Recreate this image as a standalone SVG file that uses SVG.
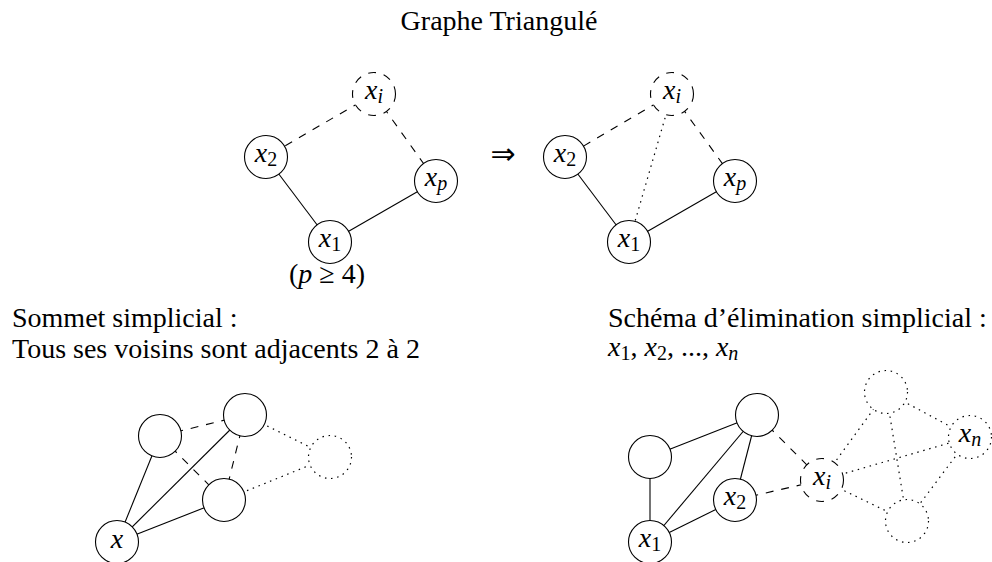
<svg xmlns="http://www.w3.org/2000/svg" width="992" height="562" viewBox="0 0 992 562">
<style>
.e{stroke:#000;stroke-width:1.1;fill:none}
.n{fill:#fff;stroke:#000;stroke-width:1.1}
.da{stroke-dasharray:7.9 7.9}
.do{stroke-dasharray:1.5 4.7;stroke-width:1.2}
.t{font-family:"Liberation Serif","Times New Roman",serif;font-size:28px;fill:#000}
.lb{font-family:"Liberation Serif","Times New Roman",serif;font-size:28px;fill:#000;text-anchor:middle}
.it{font-style:italic}
.sub{font-size:20px}
.ar{font-family:"DejaVu Sans",sans-serif;font-size:30px;text-anchor:middle}
</style>
<rect width="992" height="562" fill="#fff"/>
<text class="t" x="499" y="30" text-anchor="middle" font-size="31.5">Graphe Triangulé</text>
<g id="connectors">
  <line class="e da" x1="374" y1="94" x2="266" y2="157"/>
  <line class="e da" x1="374" y1="94" x2="436" y2="181"/>
  <line class="e" x1="266" y1="157" x2="330" y2="242"/>
  <line class="e" x1="436" y1="181" x2="330" y2="242"/>
  <line class="e da" x1="672" y1="94" x2="565" y2="157"/>
  <line class="e da" x1="672" y1="94" x2="735" y2="181"/>
  <line class="e do" x1="672" y1="94" x2="629" y2="242"/>
  <line class="e" x1="565" y1="157" x2="629" y2="242"/>
  <line class="e" x1="735" y1="181" x2="629" y2="242"/>
  <line class="e" x1="117" y1="542" x2="160" y2="436"/>
  <line class="e" x1="117" y1="542" x2="245" y2="415"/>
  <line class="e" x1="117" y1="542" x2="224" y2="500"/>
  <line class="e da" x1="160" y1="436" x2="245" y2="415"/>
  <line class="e da" x1="160" y1="436" x2="224" y2="500"/>
  <line class="e da" x1="245" y1="415" x2="224" y2="500"/>
  <line class="e do" x1="245" y1="415" x2="330" y2="457"/>
  <line class="e do" x1="224" y1="500" x2="330" y2="457"/>
  <line class="e" x1="650" y1="457" x2="650" y2="542"/>
  <line class="e" x1="650" y1="457" x2="757" y2="415"/>
  <line class="e" x1="757" y1="415" x2="650" y2="542"/>
  <line class="e" x1="757" y1="415" x2="735" y2="500"/>
  <line class="e" x1="735" y1="500" x2="650" y2="542"/>
  <line class="e da" x1="757" y1="415" x2="822" y2="480"/>
  <line class="e da" x1="735" y1="500" x2="822" y2="480"/>
  <line class="e do" x1="822" y1="480" x2="886" y2="392"/>
  <line class="e do" x1="822" y1="480" x2="970" y2="437"/>
  <line class="e do" x1="822" y1="480" x2="907" y2="521"/>
  <line class="e do" x1="886" y1="392" x2="970" y2="437"/>
  <line class="e do" x1="886" y1="392" x2="907" y2="521"/>
  <line class="e do" x1="970" y1="437" x2="907" y2="521"/>
</g>
<g id="tl-xi"><circle class="n da" cx="374" cy="94" r="21.5"/><text class="lb" x="374" y="99"><tspan class="it">x</tspan><tspan class="sub it" dy="4">i</tspan></text></g>
<g id="tl-x2"><circle class="n" cx="266" cy="157" r="21.5"/><text class="lb" x="266" y="162"><tspan class="it">x</tspan><tspan class="sub" dy="4">2</tspan></text></g>
<g id="tl-xp"><circle class="n" cx="436" cy="181" r="21.5"/><text class="lb" x="436" y="186"><tspan class="it">x</tspan><tspan class="sub it" dy="4">p</tspan></text></g>
<g id="tl-x1"><circle class="n" cx="330" cy="242" r="21.5"/><text class="lb" x="330" y="247"><tspan class="it">x</tspan><tspan class="sub" dy="4">1</tspan></text></g>
<text class="lb" x="327" y="283">(<tspan class="it">p</tspan> ≥ 4)</text>
<text class="ar" x="503" y="164">⇒</text>
<g id="tr-xi"><circle class="n da" cx="672" cy="94" r="21.5"/><text class="lb" x="672" y="99"><tspan class="it">x</tspan><tspan class="sub it" dy="4">i</tspan></text></g>
<g id="tr-x2"><circle class="n" cx="565" cy="157" r="21.5"/><text class="lb" x="565" y="162"><tspan class="it">x</tspan><tspan class="sub" dy="4">2</tspan></text></g>
<g id="tr-xp"><circle class="n" cx="735" cy="181" r="21.5"/><text class="lb" x="735" y="186"><tspan class="it">x</tspan><tspan class="sub it" dy="4">p</tspan></text></g>
<g id="tr-x1"><circle class="n" cx="629" cy="242" r="21.5"/><text class="lb" x="629" y="247"><tspan class="it">x</tspan><tspan class="sub" dy="4">1</tspan></text></g>
<text class="t" x="12" y="327">Sommet simplicial :</text>
<text class="t" x="12" y="358">Tous ses voisins sont adjacents 2 à 2</text>
<text class="t" x="608" y="327">Schéma d’élimination simplicial :</text>
<text class="t" x="608" y="356"><tspan class="it">x</tspan><tspan class="sub" dy="4">1</tspan><tspan dy="-4">, </tspan><tspan class="it">x</tspan><tspan class="sub" dy="4">2</tspan><tspan dy="-4">, ..., </tspan><tspan class="it">x</tspan><tspan class="sub it" dy="4">n</tspan></text>
<g id="bl-a"><circle class="n" cx="160" cy="436" r="21.5"/></g>
<g id="bl-b"><circle class="n" cx="245" cy="415" r="21.5"/></g>
<g id="bl-c"><circle class="n" cx="224" cy="500" r="21.5"/></g>
<g id="bl-d"><circle class="n do" cx="330" cy="457" r="21.5"/></g>
<g id="bl-x"><circle class="n" cx="117" cy="542" r="21.5"/><text class="lb it" x="117" y="548">x</text></g>
<g id="br-p"><circle class="n" cx="650" cy="457" r="21.5"/></g>
<g id="br-q"><circle class="n" cx="757" cy="415" r="21.5"/></g>
<g id="br-x2"><circle class="n" cx="735" cy="500" r="21.5"/><text class="lb" x="735" y="505"><tspan class="it">x</tspan><tspan class="sub" dy="4">2</tspan></text></g>
<g id="br-x1"><circle class="n" cx="650" cy="542" r="21.5"/><text class="lb" x="650" y="547"><tspan class="it">x</tspan><tspan class="sub" dy="4">1</tspan></text></g>
<g id="br-xi"><circle class="n da" cx="822" cy="480" r="21.5"/><text class="lb" x="822" y="485"><tspan class="it">x</tspan><tspan class="sub it" dy="4">i</tspan></text></g>
<g id="br-r"><circle class="n do" cx="886" cy="392" r="21.5"/></g>
<g id="br-xn"><circle class="n do" cx="970" cy="437" r="21.5"/><text class="lb" x="970" y="442"><tspan class="it">x</tspan><tspan class="sub it" dy="4">n</tspan></text></g>
<g id="br-s"><circle class="n do" cx="907" cy="521" r="21.5"/></g>
</svg>
